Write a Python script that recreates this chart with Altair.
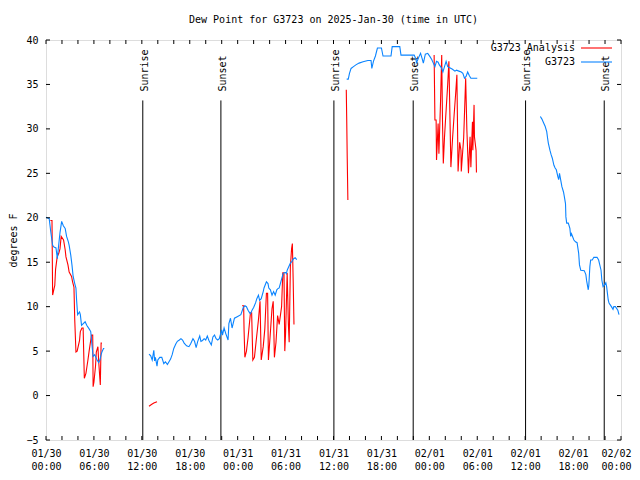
import altair as alt
import pandas as pd

# ---------------- data (hours since 2025-01-30 00:00 UTC, degrees F) ----------------
blue1_h = [0.0, 0.4, 0.6, 0.83, 1.0, 1.25, 1.42, 1.5, 1.75, 1.96, 2.17, 2.4, 2.58, 2.8, 2.9, 3.1, 3.25, 3.4, 3.6,
           3.75, 3.83, 3.96, 4.2, 4.3, 4.45, 4.9, 5.1, 5.4, 5.6, 5.8, 5.9, 6.1, 6.4, 6.6, 6.75, 6.9, 7.0, 7.2, 7.3]
blue1_v = [20.05, 19.9, 18.4, 16.9, 16.7, 16.6, 15.4, 16.2, 18.3, 19.6, 19.1, 18.8, 17.9, 17.3, 16.9, 15.8, 14.7,
           13.4, 12.6, 12.1, 10.75, 9.1, 9.4, 9.1, 7.9, 8.3, 7.9, 7.5, 7.2, 5.3, 4.4, 4.6, 4.0, 3.7, 4.0, 4.6, 4.9,
           5.3, 5.3]

blue2_h = [12.9, 13.1, 13.3, 13.5, 13.6, 13.7, 13.9, 14.0, 14.25, 14.5, 14.75, 14.95, 15.2, 15.4, 15.6, 15.8, 16.0,
           16.25, 16.45, 16.7, 16.9, 17.1, 17.3, 17.6, 17.9, 18.1, 18.4, 18.6, 18.8, 19.0, 19.25, 19.4, 19.6, 19.8,
           20.0, 20.2, 20.4, 20.7, 20.9, 21.1, 21.3, 21.5, 21.7, 22.0, 22.1, 22.3, 22.5, 22.8, 22.9, 23.1, 23.3,
           23.6, 24.0, 24.4, 24.7, 24.9, 25.1, 25.3, 25.5, 25.6, 25.8, 26.0, 26.25, 26.4, 26.6, 26.75, 26.95, 27.2,
           27.3, 27.6, 27.8, 27.9, 28.1, 28.3, 28.5, 28.7, 28.9, 29.0, 29.2, 29.7, 29.9, 30.0, 30.1, 30.2, 30.6,
           30.8, 31.0, 31.2, 31.4]
blue2_v = [4.65, 4.5, 4.0, 5.1, 3.9, 4.3, 3.3, 4.0, 4.3, 4.3, 3.6, 3.8, 3.5, 3.8, 4.1, 4.6, 5.3, 5.8, 6.1, 6.25, 6.4,
           6.25, 5.9, 5.6, 5.5, 5.8, 6.4, 6.1, 5.4, 6.1, 6.7, 6.1, 6.2, 6.4, 6.25, 6.7, 6.2, 5.7, 6.6, 6.8, 6.4,
           6.25, 6.4, 7.4, 6.8, 7.6, 7.0, 6.25, 8.1, 8.7, 7.6, 8.7, 8.9, 9.1, 9.9, 10.1, 10.0, 9.6, 9.3, 9.2, 9.6,
           9.9, 10.45, 10.9, 11.3, 10.7, 10.9, 11.7, 12.1, 12.8, 12.6, 12.1, 11.9, 11.3, 11.7, 11.3, 11.9, 12.0,
           12.1, 13.75, 13.85, 13.85, 13.7, 14.1, 14.9, 15.1, 15.4, 15.5, 15.3]

blue3_h = [37.65, 37.85, 38.0, 38.2, 38.5, 38.8, 39.2, 39.7, 40.3, 40.7, 40.8, 41.0, 41.25, 41.5, 42.0, 42.2, 42.8,
           43.2, 43.35, 44.3, 44.45, 45.0, 45.9, 46.1, 46.3, 46.4, 46.7, 46.9, 47.1, 47.25, 47.5, 47.8, 48.1, 48.3,
           48.5, 48.7, 48.9, 49.1, 49.25, 49.5, 49.7, 49.9, 50.1, 50.3, 50.5, 50.9, 51.2, 51.4, 51.7, 52.0, 52.2,
           52.4, 52.6, 52.8, 53.0, 53.2, 54.0]
blue3_v = [35.6, 35.6, 36.25, 36.8, 37.0, 37.2, 37.4, 37.55, 37.7, 37.7, 36.8, 37.6, 38.2, 39.1, 39.1, 38.2, 38.2,
           38.2, 39.25, 39.25, 38.3, 38.3, 38.3, 38.3, 37.9, 37.45, 38.1, 38.5, 37.9, 37.4, 38.4, 38.5, 38.1, 37.8,
           37.4, 37.0, 37.6, 37.5, 37.2, 36.9, 36.4, 37.0, 37.6, 37.0, 36.9, 36.7, 36.5, 36.6, 36.5, 36.4, 36.25,
           35.7, 35.9, 36.4, 36.0, 35.7, 35.7]

blue4_h = [61.9, 62.1, 62.3, 62.5, 62.7, 62.8, 62.9, 63.1, 63.25, 63.4, 63.6, 63.75, 63.9, 64.1, 64.2, 64.3, 64.6,
           64.8, 64.9, 65.05, 65.1, 65.2, 65.4, 65.6, 65.7, 65.8, 66.1, 66.3, 66.5, 66.7, 66.8, 66.96, 67.4, 67.6,
           67.7, 67.9, 67.97, 68.1, 68.2, 68.4, 68.6, 69.0, 69.2, 69.5, 69.6, 69.75, 69.9, 70.1, 70.2, 70.3, 70.4,
           70.5, 70.8, 71.0, 71.1, 71.3, 71.6, 71.75]
blue4_v = [31.4, 31.1, 30.7, 30.3, 29.7, 29.0, 28.4, 27.6, 27.1, 26.7, 25.9, 25.6, 25.4, 24.6, 24.3, 25.0, 23.5,
           22.9, 22.4, 21.6, 20.1, 19.4, 19.4, 18.8, 17.9, 18.2, 17.5, 17.3, 17.2, 16.0, 14.7, 14.1, 14.05, 13.6,
           12.9, 11.9, 12.4, 14.5, 15.25, 15.25, 15.55, 15.55, 15.25, 14.1, 13.0, 12.25, 12.4, 12.7, 12.25, 11.5,
           10.75, 10.4, 10.0, 9.7, 10.0, 10.0, 9.6, 9.1]

red1_h = [0.55, 0.75, 0.83, 1.0, 1.1, 1.2, 1.4, 1.6, 1.75, 1.9, 2.2, 2.4, 2.5, 2.75, 2.9, 3.2, 3.33, 3.5, 3.6, 3.75,
          3.9, 4.2, 4.3, 4.5, 4.65, 4.8, 5.0, 5.25, 5.4, 5.6, 5.7, 5.85, 5.9, 6.0, 6.2, 6.3, 6.5, 6.6, 6.8, 6.9, 7.0]
red1_v = [19.7, 19.7, 11.3, 12.0, 12.4, 14.2, 15.6, 16.0, 16.5, 17.9, 17.5, 16.4, 15.6, 14.7, 13.9, 13.4, 12.8, 12.2,
          8.5, 4.9, 5.0, 6.2, 7.2, 7.6, 7.6, 1.95, 2.5, 4.0, 5.0, 6.2, 6.8, 6.8, 1.0, 1.5, 3.3, 4.9, 5.5, 3.8, 1.2,
          5.9, 5.9]

red2_h = [12.9, 13.2, 13.5, 13.9]
red2_v = [-1.2, -1.0, -0.85, -0.7]

red3_h = [24.55, 24.75, 24.8, 24.9, 25.1, 25.3, 25.6, 25.75, 25.9, 26.1, 26.3, 26.6, 26.8, 26.95, 27.2, 27.4, 27.6,
          27.75, 27.85, 28.05, 28.3, 28.45, 28.6, 28.8, 29.0, 29.2, 29.5, 29.65, 29.8, 29.9, 30.0, 30.2, 30.35,
          30.45, 30.6, 30.75, 30.85, 30.95, 31.05]
red3_v = [10.1, 10.1, 7.4, 4.3, 5.0, 6.5, 9.3, 9.3, 4.0, 4.3, 6.0, 8.5, 10.6, 4.0, 5.5, 7.5, 11.5, 11.5, 4.0, 6.5,
          9.8, 10.6, 4.3, 6.0, 9.0, 8.0, 10.0, 13.8, 13.8, 5.0, 7.0, 13.8, 8.0, 6.0, 14.5, 16.5, 17.1, 13.0, 8.0]

red4_h = [37.6, 37.65, 37.72, 37.8]
red4_v = [34.4, 31.4, 26.7, 22.0]

red5_h = [48.6, 48.7, 48.85, 48.9, 49.1, 49.2, 49.4, 49.55, 49.65, 49.75, 49.9, 50.0, 50.3, 50.45, 50.7, 50.9, 51.1,
          51.3, 51.45, 51.6, 51.8, 51.96, 52.0, 52.3, 52.55, 52.7, 52.9, 53.1, 53.2, 53.4, 53.45, 53.6, 53.65,
          53.85, 53.9]
red5_v = [38.3, 31.0, 31.0, 26.5, 30.6, 27.2, 33.0, 38.3, 30.8, 26.1, 29.1, 30.6, 35.0, 37.6, 25.7, 28.8, 31.5,
          34.0, 36.1, 25.2, 28.5, 27.6, 25.2, 29.0, 35.7, 29.9, 25.0, 29.1, 25.7, 30.8, 27.6, 32.7, 29.1, 27.6, 25.1]

sun_h = [12.12, 21.9, 36.05, 45.98, 60.05, 69.9]
sun_label = ["Sunrise", "Sunset", "Sunrise", "Sunset", "Sunrise", "Sunset"]

x_ticks_major = list(range(0, 73, 6))
x_ticks_minor = list(range(0, 73, 2))
y_ticks = [-5, 0, 5, 10, 15, 20, 25, 30, 35, 40]
day_labels = ["01/30", "01/31", "02/01", "02/02"]

series_names = ["G3723 Analysis", "G3723"]
series_colors = ["#ff0000", "#0a84ff"]

TITLE = "Dew Point for G3723 on 2025-Jan-30 (time in UTC)"
FONT = "DejaVu Sans Mono"

# ---------------- build tables ----------------
def build(segs, name):
    rows = []
    for i, (hs, vs) in enumerate(segs):
        for h, v in zip(hs, vs):
            rows.append({"h": h, "v": v, "seg": f"{name}{i}"})
    return pd.DataFrame(rows)

blue_df = build([(blue1_h, blue1_v), (blue2_h, blue2_v), (blue3_h, blue3_v), (blue4_h, blue4_v)], "b")
red_df = build([(red1_h, red1_v), (red2_h, red2_v), (red3_h, red3_v), (red4_h, red4_v), (red5_h, red5_v)], "r")
sun_df = pd.DataFrame({"h": sun_h, "label": sun_label})
sun_df["hx"] = sun_df["h"] + 0.22
xmin_df = pd.DataFrame({"h": x_ticks_minor})
yt_df = pd.DataFrame({"v": y_ticks})

W, H = 575, 400

xs = alt.Scale(domain=[0, 72], nice=False, zero=False)
ys = alt.Scale(domain=[-5, 40], nice=False, zero=False)

day_arr = "[" + ",".join(f"'{d}'" for d in day_labels) + "]"
last_tick = x_ticks_major[-1]
xaxis = alt.Axis(values=x_ticks_major, ticks=False, domain=False, grid=False, title=None,
                 labelExpr=f"[{day_arr}[floor(datum.value/24)], format(datum.value % 24, '02d') + ':00']",
                 labelPadding=8, labelLineHeight=13, labelFlush=False, labelOverlap=False,
                 labelAlign={"condition": {"test": f"datum.value == {last_tick}", "value": "right"},
                             "value": "center"},
                 labelOffset={"condition": {"test": f"datum.value == {last_tick}", "value": 10},
                              "value": 0},
                 labelFont=FONT, labelFontSize=10, labelColor="black")
yaxis = alt.Axis(values=y_ticks, ticks=False, domain=False, grid=False, title="degrees F",
                 labelPadding=8, titlePadding=7, labelOverlap=False,
                 labelFont=FONT, labelFontSize=10, labelColor="black",
                 titleFont=FONT, titleFontSize=10, titleFontWeight="normal", titleColor="black")

def X(field):
    return alt.X(field, type="quantitative", scale=xs, axis=xaxis)

def Y(field):
    return alt.Y(field, type="quantitative", scale=ys, axis=yaxis)

sun_rules = alt.Chart(sun_df).mark_rule(color="black", strokeWidth=1).encode(
    x=X("h"), y=alt.datum(-5, scale=ys), y2=alt.datum(33.2))

sun_text = alt.Chart(sun_df).mark_text(angle=270, align="left", baseline="middle",
                                       font=FONT, fontSize=10, color="black").encode(
    x=X("hx"), y=alt.datum(34.2, scale=ys), text="label:N")

red_line = alt.Chart(red_df).mark_line(color=series_colors[0], strokeWidth=1.1, interpolate="linear").encode(
    x=X("h"), y=Y("v"), detail="seg:N", order="h:Q")

blue_line = alt.Chart(blue_df).mark_line(color=series_colors[1], strokeWidth=1.1, interpolate="linear").encode(
    x=X("h"), y=Y("v"), detail="seg:N", order="h:Q")

TL = 4
ytick_left = alt.Chart(yt_df).mark_rule(color="black").encode(y=Y("v"), x=alt.value(0), x2=alt.value(TL))
ytick_right = alt.Chart(yt_df).mark_rule(color="black").encode(y=Y("v"), x=alt.value(W - TL), x2=alt.value(W))
xtick_bot = alt.Chart(xmin_df).mark_rule(color="black").encode(x=X("h"), y=alt.value(H - TL), y2=alt.value(H))
xtick_top = alt.Chart(xmin_df).mark_rule(color="black").encode(x=X("h"), y=alt.value(0), y2=alt.value(TL))

leg_layers = []
for i, (nm, col) in enumerate(zip(series_names, series_colors)):
    yy = 8 + 14 * i
    d = pd.DataFrame({"name": [nm]})
    leg_layers.append(alt.Chart(d).mark_text(align="right", baseline="middle", font=FONT, fontSize=10,
                                              color="black").encode(
        x=alt.value(529), y=alt.value(yy), text="name:N"))
    leg_layers.append(alt.Chart(d).mark_rule(color=col, strokeWidth=1.1).encode(
        x=alt.value(535), x2=alt.value(566), y=alt.value(yy)))

chart = alt.layer(
    sun_rules, sun_text, red_line, blue_line,
    ytick_left, ytick_right, xtick_bot, xtick_top, *leg_layers
).properties(
    width=W, height=H,
    title=alt.TitleParams(TITLE, font=FONT, fontSize=10, fontWeight="normal", anchor="middle", offset=10,
                          color="black"),
    autosize=alt.AutoSizeParams(type="none"),
    padding={"left": 38, "top": 32, "right": 11, "bottom": 32},
).configure_view(
    stroke="black", strokeWidth=1
).configure_axis(
    labelFont=FONT, labelFontSize=10, labelColor="black",
    titleFont=FONT, titleFontSize=10, titleFontWeight="normal", titleColor="black"
).configure(background="white")

chart.save("out.html", embed_options={"renderer": "svg", "actions": False})
